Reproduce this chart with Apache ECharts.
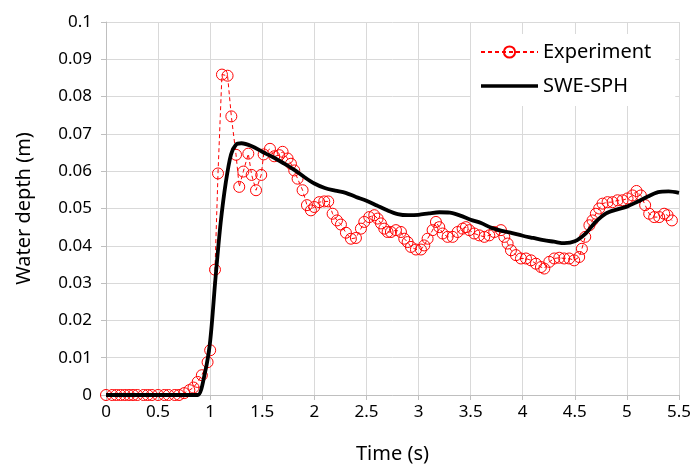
<!DOCTYPE html>
<html>
<head>
<meta charset="utf-8">
<script src="https://cdn.jsdelivr.net/npm/echarts@6/dist/echarts.min.js"></script>
<style>
  html, body { margin: 0; padding: 0; background: #fff; }
  #chart { width: 695px; height: 467px; }
</style>
</head>
<body>
<div id="chart"></div>
<script>
// experiment, time (s) and depth (m)
var expTime = [0, 0.06, 0.1, 0.14, 0.18, 0.22, 0.26, 0.3, 0.36, 0.4, 0.44, 0.5, 0.56, 0.6, 0.66, 0.7, 0.75, 0.8,
  0.84, 0.88, 0.92, 0.975, 1.0, 1.046, 1.075, 1.113, 1.167, 1.203, 1.248, 1.279, 1.318, 1.366, 1.398, 1.44,
  1.49, 1.513, 1.574, 1.615, 1.663, 1.695, 1.743, 1.775, 1.807, 1.839, 1.887, 1.929, 1.967, 1.999, 2.047,
  2.095, 2.133, 2.175, 2.217, 2.255, 2.303, 2.351, 2.399, 2.447, 2.479, 2.527, 2.575, 2.607, 2.639, 2.671,
  2.703, 2.735, 2.783, 2.831, 2.863, 2.895, 2.927, 2.975, 3.023, 3.055, 3.087, 3.135, 3.167, 3.199, 3.231,
  3.279, 3.327, 3.375, 3.423, 3.455, 3.487, 3.535, 3.583, 3.631, 3.679, 3.727, 3.791, 3.823, 3.855, 3.887,
  3.935, 3.983, 4.031, 4.079, 4.127, 4.175, 4.207, 4.255, 4.303, 4.351, 4.398, 4.446, 4.494, 4.542, 4.568,
  4.6, 4.64, 4.67, 4.702, 4.734, 4.766, 4.814, 4.862, 4.91, 4.958, 5.006, 5.054, 5.092, 5.134, 5.175,
  5.214, 5.262, 5.31, 5.358, 5.39, 5.432];
var expDepth = [0, 0, 0, 0, 0, 0, 0, 0, 0, 0, 0, 0, 0, 0, 0, 0, 0.0005, 0.0013,
  0.002, 0.0035, 0.0053, 0.0088, 0.012, 0.0336, 0.0594, 0.0859, 0.0856, 0.0747, 0.0644, 0.0558, 0.0599, 0.0647, 0.059, 0.0549,
  0.059, 0.0645, 0.066, 0.064, 0.0643, 0.0652, 0.0634, 0.062, 0.0602, 0.058, 0.0549, 0.0509, 0.0495, 0.0504, 0.0517,
  0.0519, 0.0519, 0.0486, 0.0468, 0.0457, 0.0435, 0.0419, 0.0421, 0.0446, 0.0464, 0.0477, 0.0482, 0.0473, 0.046, 0.0446,
  0.0437, 0.0437, 0.0442, 0.0437, 0.0419, 0.041, 0.0397, 0.039, 0.039, 0.0401, 0.0419, 0.0442, 0.0464, 0.045, 0.0433,
  0.0424, 0.0424, 0.0437, 0.0446, 0.045, 0.0442, 0.0433, 0.0428, 0.0424, 0.0428, 0.0437, 0.0442, 0.0424, 0.0406, 0.0388,
  0.0375, 0.0366, 0.0366, 0.0361, 0.0352, 0.0343, 0.0339, 0.0357, 0.0366, 0.0368, 0.0366, 0.0366, 0.0361, 0.037, 0.0392,
  0.0424, 0.0455, 0.0468, 0.0486, 0.05, 0.0513, 0.0517, 0.0517, 0.0522, 0.0522, 0.0527, 0.0535, 0.0547, 0.0535, 0.0509,
  0.0486, 0.0477, 0.0477, 0.0486, 0.0482, 0.0468];

// SWE-SPH model
var sphTime = [0, 0.2, 0.4, 0.6, 0.8, 0.88, 0.95, 1.0, 1.05, 1.1, 1.15, 1.2, 1.25, 1.3, 1.4, 1.5, 1.6, 1.7, 1.8, 1.9,
  2.0, 2.1, 2.2, 2.3, 2.4, 2.5, 2.6, 2.7, 2.8, 2.9, 3.0, 3.1, 3.2, 3.3, 3.4, 3.5, 3.6, 3.7, 3.8, 3.9,
  4.0, 4.1, 4.2, 4.3, 4.4, 4.5, 4.6, 4.7, 4.8, 4.9, 5.0, 5.1, 5.2, 5.3, 5.4, 5.5];
var sphDepth = [0, 0, 0, 0, 0, 0, 0.006, 0.0145, 0.031, 0.046, 0.057, 0.0645, 0.0672, 0.0675, 0.0667, 0.0652, 0.0638, 0.0622, 0.0605, 0.0585,
  0.0567, 0.0555, 0.0548, 0.0542, 0.0531, 0.0521, 0.0508, 0.0495, 0.0485, 0.0482, 0.0483, 0.0487, 0.049, 0.0489, 0.0481, 0.047, 0.0461, 0.0448, 0.044, 0.0434,
  0.0427, 0.0421, 0.0415, 0.0411, 0.0407, 0.0412, 0.0432, 0.0464, 0.0487, 0.0497, 0.0505, 0.0518, 0.0532, 0.0544, 0.0546, 0.0542];

var xLabels = ['0', '0.5', '1', '1.5', '2', '2.5', '3', '3.5', '4', '4.5', '5', '5.5'];
var yLabels = ['0', '0.01', '0.02', '0.03', '0.04', '0.05', '0.06', '0.07', '0.08', '0.09', '0.1'];

function pairs(xs, ys) {
  return xs.map(function (x, i) { return [x, ys[i]]; });
}

var font = '"Noto Sans", sans-serif';
var chart = echarts.init(document.getElementById('chart'));
chart.setOption({
  animation: false,
  textStyle: { fontFamily: font },
  grid: { left: 106, right: 16, top: 22, bottom: 72, outerBoundsMode: 'none', containLabel: false },
  legend: {
    orient: 'vertical',
    left: 471, top: 34,
    padding: [8, 24, 10, 9],
    backgroundColor: '#fff',
    itemWidth: 57, itemHeight: 14, itemGap: 14,
    textStyle: { fontFamily: font, fontSize: 20, color: '#000' },
    data: [
      'Experiment',
      { name: 'SWE-SPH', icon: 'path://M0,0 L57,0 L57,3.5 L0,3.5 Z', itemStyle: { color: '#000' } }
    ]
  },
  xAxis: {
    type: 'value', min: 0, max: 5.5, interval: 0.5,
    name: 'Time (s)', nameLocation: 'middle', nameGap: 49,
    nameTextStyle: { fontSize: 20, color: '#000', fontFamily: font },
    axisLine: { show: true, lineStyle: { color: '#bfbfbf', width: 1 } },
    axisTick: { show: true, length: 5, lineStyle: { color: '#bfbfbf' } },
    axisLabel: {
      fontSize: 17, color: '#000', margin: 9,
      formatter: function (v) { return xLabels[Math.round(v / 0.5)]; }
    },
    splitLine: { show: true, lineStyle: { color: '#d9d9d9', width: 1 } }
  },
  yAxis: {
    type: 'value', min: 0, max: 0.1, interval: 0.01,
    name: 'Water depth (m)', nameLocation: 'middle', nameGap: 72,
    nameTextStyle: { fontSize: 20, color: '#000', fontFamily: font },
    axisLine: { show: true, lineStyle: { color: '#bfbfbf', width: 1 } },
    axisTick: { show: true, length: 5, lineStyle: { color: '#bfbfbf' } },
    axisLabel: {
      fontSize: 17, color: '#000', margin: 14,
      formatter: function (v) { return yLabels[Math.round(v / 0.01)]; }
    },
    splitLine: { show: true, lineStyle: { color: '#d9d9d9', width: 1 } }
  },
  series: [
    {
      name: 'Experiment',
      type: 'line',
      data: pairs(expTime, expDepth),
      symbol: 'circle', symbolSize: 11,
      showAllSymbol: true,
      itemStyle: { color: 'rgba(255,255,255,0)', borderColor: '#ff0000', borderWidth: 1 },
      lineStyle: { color: '#ff0000', width: 1, type: [4, 3] },
      z: 2
    },
    {
      name: 'SWE-SPH',
      type: 'line',
      data: pairs(sphTime, sphDepth),
      symbol: 'none',
      smooth: 0.3,
      itemStyle: { color: '#000' },
      lineStyle: { color: '#000', width: 3.8 },
      z: 3
    }
  ]
});
</script>
</body>
</html>
